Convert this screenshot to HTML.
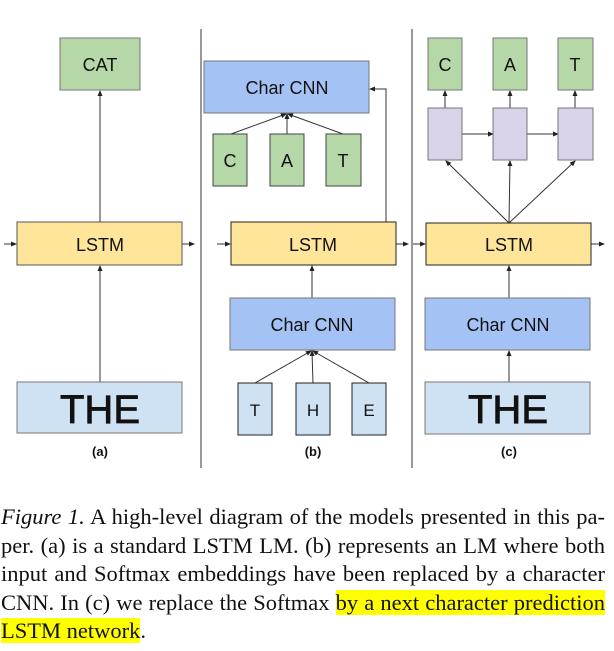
<!DOCTYPE html>
<html><head><meta charset="utf-8"><style>
html,body{margin:0;padding:0;background:#fff;width:614px;height:651px;overflow:hidden}
svg{position:absolute;left:0;top:0}
svg text{font-family:"Liberation Sans",sans-serif;fill:#111}
.cap{position:absolute;left:1px;top:503px;width:604px;font-family:"Liberation Serif",serif;font-size:22.5px;line-height:28.5px;color:#111}
.cap div{white-space:nowrap;text-align:justify;text-align-last:justify}
.cap div.last{text-align-last:left}
.hl{background:#ffff00}
</style></head><body>
<svg width="614" height="470" viewBox="0 0 614 470">
<defs><marker id="a" markerWidth="6" markerHeight="6" refX="5" refY="3" orient="auto" markerUnits="userSpaceOnUse"><path d="M0,0.5 L6,3 L0,5.5 z" fill="#222"/></marker></defs>
<g stroke="#333" stroke-width="1" fill="none">
<line x1="201" y1="29" x2="201" y2="468"/><line x1="412" y1="29" x2="412" y2="468"/>
</g>
<g stroke="#333" stroke-width="1" marker-end="url(#a)">
<line x1="100" y1="222" x2="100" y2="91"/><line x1="100" y1="382" x2="100" y2="266"/>
<line x1="4" y1="244" x2="16" y2="244"/><line x1="182" y1="244" x2="194" y2="244"/>
<line x1="217" y1="244" x2="230" y2="244"/><line x1="396" y1="244" x2="408" y2="244"/>
<line x1="413" y1="244" x2="425" y2="244"/><line x1="591" y1="244" x2="604" y2="244"/>
<line x1="312" y1="298" x2="312" y2="266"/>
<line x1="231" y1="134" x2="286" y2="114"/><line x1="287" y1="134" x2="287" y2="114"/><line x1="343" y1="134" x2="288" y2="114"/>
<line x1="255" y1="383" x2="311" y2="351"/><line x1="313" y1="383" x2="312" y2="351"/><line x1="369" y1="383" x2="313" y2="351"/>
<polyline points="386,222 386,89 370,89" fill="none"/>
<line x1="509" y1="298" x2="509" y2="266"/><line x1="509" y1="382" x2="509" y2="351"/>
<line x1="509" y1="223" x2="446" y2="161"/><line x1="509" y1="223" x2="510" y2="161"/><line x1="509" y1="223" x2="575" y2="161"/>
<line x1="445" y1="108" x2="445" y2="91"/><line x1="510" y1="108" x2="510" y2="91"/><line x1="575" y1="108" x2="575" y2="91"/>
<line x1="462" y1="134" x2="493" y2="134"/><line x1="527" y1="134" x2="558" y2="134"/>
</g>
<g stroke="#777" stroke-width="1">
<rect x="60" y="38" width="80" height="52" fill="#b6d7a8"/>
<rect x="17" y="222" width="165" height="43" fill="#ffe599" stroke="#555"/>
<rect x="17" y="382" width="165" height="51" fill="#cfe2f3"/>
<rect x="204" y="61" width="165" height="52" fill="#a4c2f4"/>
<rect x="213" y="134" width="34" height="52" fill="#b6d7a8" stroke="#444"/>
<rect x="270" y="134" width="34" height="52" fill="#b6d7a8" stroke="#444"/>
<rect x="326" y="134" width="35" height="52" fill="#b6d7a8" stroke="#444"/>
<rect x="231" y="222" width="165" height="43" fill="#ffe599" stroke="#222"/>
<rect x="230" y="298" width="165" height="52" fill="#a4c2f4"/>
<rect x="238" y="383" width="34" height="52" fill="#cfe2f3" stroke="#222"/>
<rect x="296" y="383" width="34" height="52" fill="#cfe2f3" stroke="#222"/>
<rect x="352" y="383" width="34" height="52" fill="#cfe2f3" stroke="#222"/>
<rect x="428" y="38" width="34" height="52" fill="#b6d7a8"/>
<rect x="493" y="38" width="34" height="52" fill="#b6d7a8"/>
<rect x="558" y="38" width="35" height="52" fill="#b6d7a8"/>
<rect x="428" y="108" width="34" height="52" fill="#d9d2e9"/>
<rect x="493" y="108" width="34" height="52" fill="#d9d2e9"/>
<rect x="558" y="108" width="35" height="52" fill="#d9d2e9"/>
<rect x="426" y="223" width="165" height="42" fill="#ffe599" stroke="#222"/>
<rect x="425" y="298" width="165" height="52" fill="#a4c2f4"/>
<rect x="425" y="382" width="165" height="52" fill="#cfe2f3"/>
</g>
<g text-anchor="middle" font-size="18">
<text x="100" y="71">CAT</text>
<text x="100" y="251">LSTM</text>
<text x="100" y="423" font-size="40" stroke="#111" stroke-width="0.8">THE</text>
<text x="287" y="94">Char CNN</text>
<text x="230" y="167">C</text><text x="287" y="167">A</text><text x="343" y="167">T</text>
<text x="313" y="251">LSTM</text>
<text x="312" y="331">Char CNN</text>
<text x="255" y="416" font-size="17">T</text><text x="313" y="416" font-size="17">H</text><text x="369" y="416" font-size="17">E</text>
<text x="445" y="71">C</text><text x="510" y="71">A</text><text x="575" y="71">T</text>
<text x="509" y="251">LSTM</text>
<text x="508" y="331">Char CNN</text>
<text x="508" y="423" font-size="40" stroke="#111" stroke-width="0.8">THE</text>
<text x="100" y="456" font-size="13" font-weight="bold">(a)</text>
<text x="313" y="456" font-size="13" font-weight="bold">(b)</text>
<text x="509" y="456" font-size="13" font-weight="bold">(c)</text>
</g>
</svg>
<div class="cap">
<div><i>Figure 1.</i> A high-level diagram of the models presented in this pa-</div>
<div>per. (a) is a standard LSTM LM. (b) represents an LM where both</div>
<div>input and Softmax embeddings have been replaced by a character</div>
<div>CNN. In (c) we replace the Softmax <span class="hl">by a next character prediction</span></div>
<div class="last"><span class="hl">LSTM network</span>.</div>
</div>
</body></html>
